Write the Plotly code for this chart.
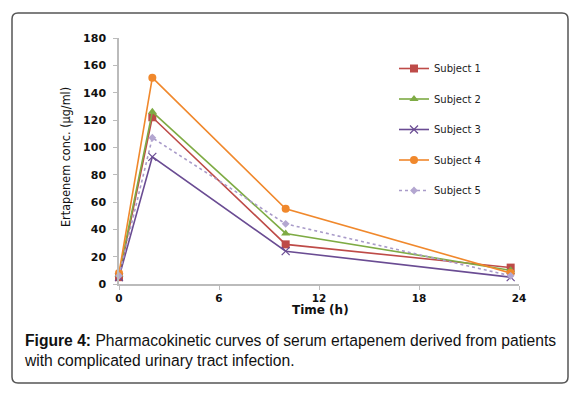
import plotly.graph_objects as go

time_h = [0, 2, 10, 23.5]
subject1 = [5, 122, 29, 12]
subject2 = [7, 126, 37, 10]
subject3 = [5, 93, 24, 5]
subject4 = [8, 151, 55, 8]
subject5 = [6, 107, 44, 6]
series_names = ["Subject 1", "Subject 2", "Subject 3", "Subject 4", "Subject 5"]
x_ticks = [0, 6, 12, 18, 24]
y_ticks = [0, 20, 40, 60, 80, 100, 120, 140, 160, 180]

styles = [
    dict(color="#BE4B48", symbol="square", dash="solid", size=8),
    dict(color="#7EAB44", symbol="triangle-up", dash="solid", size=8),
    dict(color="#6A4C93", symbol="x-thin", dash="solid", size=8),
    dict(color="#F0882C", symbol="circle", dash="solid", size=8),
    dict(color="#A99BC9", symbol="diamond", dash="dot", size=6),
]
marker_colors = ["#BE4B48", "#7EAB44", "#6A4C93", "#F0882C", "#B3A6D0"]

fig = go.Figure()
for i, (name, vals) in enumerate(zip(series_names, [subject1, subject2, subject3, subject4, subject5])):
    st = styles[i]
    mk = dict(symbol=st["symbol"], size=st["size"], color=marker_colors[i])
    if st["symbol"] == "x-thin":
        mk["line"] = dict(color=marker_colors[i], width=1.2)
    fig.add_trace(go.Scatter(
        x=time_h, y=vals, name=name, mode="lines+markers",
        line=dict(color=st["color"], width=1.6, dash=st["dash"]),
        marker=mk, cliponaxis=False, legendgroup=name,
    ))

W, H = 581, 393
L, R, T, B = 119, 519, 38, 284


def px(x):
    return (x - L) / (R - L)


def py(y):
    return (B - y) / (B - T)


fig.update_layout(
    width=W, height=H,
    margin=dict(l=L, r=W - R, t=T, b=H - B),
    paper_bgcolor="white", plot_bgcolor="white",
    showlegend=True,
    legend=dict(
        x=px(394), xanchor="left",
        y=py(54), yanchor="top",
        font=dict(family="DejaVu Sans", size=10, color="#222"),
        tracegroupgap=11.5, traceorder="grouped",
        bgcolor="rgba(0,0,0,0)", itemwidth=30,
    ),
    xaxis=dict(
        range=[0, 24], tickvals=x_ticks, ticktext=[str(v) for v in x_ticks],
        showgrid=False, zeroline=False, showline=True, linecolor="#BBBBBB", linewidth=1.5,
        ticks="outside", ticklen=4, tickcolor="#BBBBBB",
        tickfont=dict(family="DejaVu Sans", size=10.5, color="#111", weight="bold"),
    ),
    yaxis=dict(
        range=[0, 180], tickvals=y_ticks, ticktext=[str(v) for v in y_ticks],
        showgrid=False, zeroline=False, showline=True, linecolor="#BBBBBB", linewidth=1.5,
        ticks="outside", ticklen=4, tickcolor="#BBBBBB", ticklabelstandoff=5,
        tickfont=dict(family="DejaVu Sans", size=11, color="#111", weight="bold"),
    ),
)

x0, x1, y0, y1, r = 12, 568, 13, 383, 6
path = (
    f"M {px(x0 + r)},{py(y0)} L {px(x1 - r)},{py(y0)} "
    f"Q {px(x1)},{py(y0)} {px(x1)},{py(y0 + r)} "
    f"L {px(x1)},{py(y1 - r)} Q {px(x1)},{py(y1)} {px(x1 - r)},{py(y1)} "
    f"L {px(x0 + r)},{py(y1)} Q {px(x0)},{py(y1)} {px(x0)},{py(y1 - r)} "
    f"L {px(x0)},{py(y0 + r)} Q {px(x0)},{py(y0)} {px(x0 + r)},{py(y0)} Z"
)
fig.layout.shapes = [dict(type="path", xref="paper", yref="paper", path=path,
                          line=dict(color="#555555", width=1.5))]

fig.add_annotation(
    text="Ertapenem conc. (μg/ml)", textangle=-90,
    xref="paper", yref="paper", x=px(65), y=py(157),
    xanchor="center", yanchor="middle",
    showarrow=False,
    font=dict(family="Liberation Sans Narrow, DejaVu Sans Condensed, sans-serif", size=12.5, color="#111"),
)
fig.add_annotation(
    text="<b>Time (h)</b>", xref="paper", yref="paper", x=px(320), y=py(310),
    xanchor="center", yanchor="middle",
    showarrow=False,
    font=dict(family="DejaVu Sans", size=12, color="#111"),
)
fig.add_annotation(
    text="<b>Figure 4:</b> Pharmacokinetic curves of serum ertapenem derived from patients<br>"
         "with complicated urinary tract infection.",
    xref="paper", yref="paper", x=px(22), y=py(330), xanchor="left", yanchor="top",
    align="left", showarrow=False,
    font=dict(family="Liberation Sans, Arial, sans-serif", size=15.65, color="#111"),
)

fig.write_html("out.html", config={"displayModeBar": False},
               post_script="document.body.style.margin='0';document.body.style.overflow='hidden';")
